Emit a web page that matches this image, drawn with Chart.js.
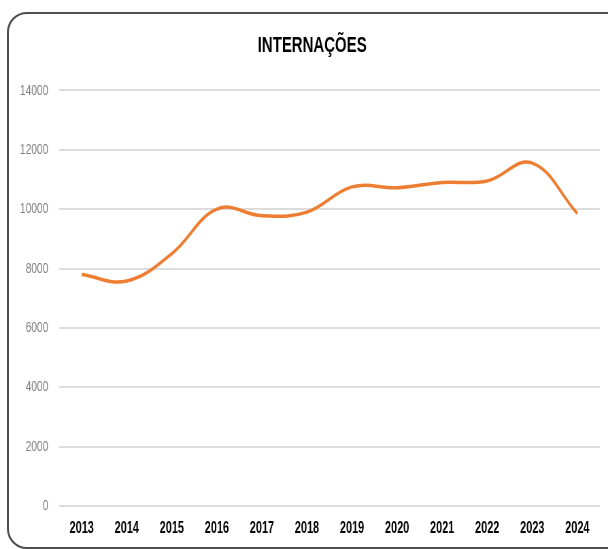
<!DOCTYPE html>
<html>
<head>
<meta charset="utf-8">
<script src="https://cdn.jsdelivr.net/npm/chart.js@4"></script>
<style>
    html, body { margin: 0; padding: 0; background: #fff; overflow: hidden; }
    #frame {
        position: absolute; left: 7px; top: 12px;
        width: 630px; height: 533px;
        border: 2px solid #4f4f4f; border-radius: 20px;
    }
    /* chart is drawn wide and squeezed horizontally to get the narrow lettering */
    #wrap {
        position: absolute; left: 0; top: 0;
        width: 894px; height: 549px;
        transform: scaleX(0.68009); transform-origin: 0 0;
    }
</style>
</head>
<body>
<div id="frame"></div>
<div id="wrap"><canvas id="ChartInternacoes"></canvas></div>
<script>
// Internações por ano
const years = ['2013', '2014', '2015', '2016', '2017', '2018', '2019', '2020', '2021', '2022', '2023', '2024'];
const internacoes = [7800, 7580, 8500, 10000, 9780, 9900, 10750, 10720, 10900, 10950, 11550, 9850];
const yTicks = [0, 2000, 4000, 6000, 8000, 10000, 12000, 14000];

const FONT = "'Liberation Sans', Arial, sans-serif";

// nudge the title a bit to the right of the canvas centre
const titleShift = {
    id: 'titleShift',
    afterLayout(chart) {
        const dx = 18;
        chart.titleBlock.left += dx;
        chart.titleBlock.right += dx;
    }
};

const ctx = document.getElementById('ChartInternacoes').getContext('2d');
new Chart(ctx, {
    type: 'line',
    data: {
        labels: years,
        datasets: [{
            label: 'Internações',
            data: internacoes,
            borderColor: '#ED7D31',
            borderWidth: 3.5,
            tension: 0.4,
            pointRadius: 0,
            fill: false
        }]
    },
    options: {
        responsive: true,
        maintainAspectRatio: false,
        animation: false,
        layout: { padding: { left: 0, right: 12, top: 0, bottom: 0 } },
        plugins: {
            legend: { display: false },
            tooltip: { enabled: false },
            title: {
                display: true,
                text: 'INTERNAÇÕES',
                color: '#000',
                font: { family: FONT, size: 22, weight: 'bold' },
                padding: { top: 33, bottom: 31 }
            }
        },
        scales: {
            x: {
                offset: true,
                grid: { display: false, drawTicks: false },
                border: { display: false },
                ticks: {
                    color: '#000',
                    padding: 13,
                    maxRotation: 0,
                    font: { family: FONT, size: 16, weight: 'bold' }
                },
                afterFit: (scale) => { scale.height = 43; }
            },
            y: {
                min: 0,
                max: 14000,
                afterBuildTicks: (scale) => { scale.ticks = yTicks.map(v => ({ value: v })); },
                grid: { color: '#dcdcdc', lineWidth: 2, drawTicks: false },
                border: { display: false },
                ticks: {
                    color: '#7f7f7f',
                    padding: 16,
                    callback: (value) => String(value),
                    font: { family: FONT, size: 15 }
                },
                afterFit: (scale) => { scale.width = 87; }
            }
        }
    },
    plugins: [titleShift]
});
</script>
</body>
</html>
